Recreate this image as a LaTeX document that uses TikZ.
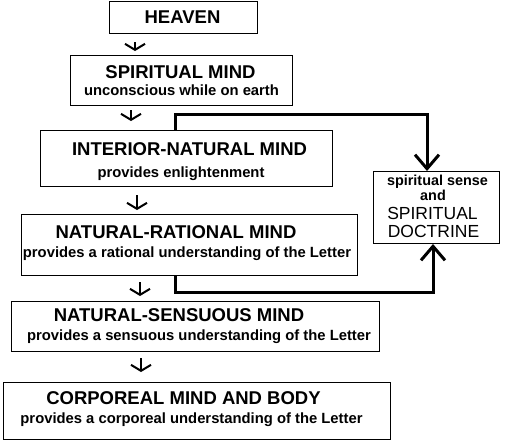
\documentclass[tikz,border=0pt]{standalone}
\usepackage{fontspec}
\setmainfont{Liberation Sans}
\usetikzlibrary{arrows.meta}
\begin{document}
\begin{tikzpicture}[x=1pt,y=-1pt,
  box/.style={draw,line width=1pt,inner sep=0pt,anchor=north west},
  ttl/.style={anchor=base,inner sep=0pt,font=\fontsize{18.5}{20}\selectfont\bfseries},
  sub/.style={anchor=base,inner sep=0pt,font=\fontsize{14.8}{16}\selectfont\bfseries},
  rsub/.style={anchor=base,inner sep=0pt,font=\fontsize{14.4}{16}\selectfont\bfseries},
  rttl/.style={anchor=base,inner sep=0pt,font=\fontsize{17.5}{19}\selectfont},
  smallarr/.style={line width=2pt,-{Straight Barb[length=6pt,width=20pt]}},
  conn/.style={line width=3pt,-{Straight Barb[length=14pt,width=24pt]}}]
\useasboundingbox (0,0) rectangle (505,445);
% boxes
\node[box,minimum width=148pt,minimum height=32pt] (heaven) at (109,1) {};
\node[box,minimum width=222pt,minimum height=50pt] (spirit) at (70,55) {};
\node[box,minimum width=292pt,minimum height=56pt] (interior) at (40,130) {};
\node[box,minimum width=336pt,minimum height=61pt] (natrat) at (21,214) {};
\node[box,minimum width=368pt,minimum height=50pt] (natsen) at (11,301) {};
\node[box,minimum width=387pt,minimum height=57pt] (corp) at (3,382) {};
\node[box,minimum width=126pt,minimum height=72pt] (doctrine) at (373,171) {};
% texts
\node[ttl] (heavenT) at (182.5,23.5) {HEAVEN};
\node[ttl] (spiritT) at (180.5,78.5) {SPIRITUAL MIND};
\node[sub] (spiritS) at (181.5,95.5) {unconscious while on earth};
\node[ttl] (interiorT) at (189.5,155) {INTERIOR-NATURAL MIND};
\node[sub] (interiorS) at (181,177) {provides enlightenment};
\node[ttl] (natratT) at (176,238) {NATURAL-RATIONAL MIND};
\node[sub] (natratS) at (187,257) {provides a rational understanding of the Letter};
\node[ttl] (natsenT) at (179,321.5) {NATURAL-SENSUOUS MIND};
\node[sub] (natsenS) at (199,340) {provides a sensuous understanding of the Letter};
\node[ttl] (corpT) at (183.5,404) {CORPOREAL MIND AND BODY};
\node[sub] (corpS) at (191.5,423.5) {provides a corporeal understanding of the Letter};
\node[rsub] (docA) at (437.5,185.5) {spiritual sense};
\node[rsub] (docB) at (433,200) {and};
\node[rttl] (docC) at (432.5,219) {SPIRITUAL};
\node[rttl] (docD) at (433.5,237) {DOCTRINE};
% small arrows
\coordinate (a1) at (135,0);
\coordinate (a2) at (131,0);
\coordinate (a3) at (137,0);
\coordinate (a4) at (140,0);
\coordinate (a5) at (141,0);
\draw[smallarr,shorten <=8pt,shorten >=4pt] (heaven.south -| a1) -- (spirit.north -| a1);
\draw[smallarr,shorten <=4pt,shorten >=9pt] (spirit.south -| a2) -- (interior.north -| a2);
\draw[smallarr,shorten <=8pt,shorten >=4pt] (interior.south -| a3) -- (natrat.north -| a3);
\draw[smallarr,shorten <=6pt,shorten >=5pt] (natrat.south -| a4) -- (natsen.north -| a4);
\draw[smallarr,shorten <=6pt,shorten >=10pt] (natsen.south -| a5) -- (corp.north -| a5);
% thick connectors
\coordinate (p1) at (175,114);
\coordinate (p2) at (427,114);
\coordinate (q1) at (175,292);
\coordinate (q2) at (433,292);
\draw[conn] (interior.north -| p1) -- (p1) -- (p2) -- (doctrine.north -| p2);
\draw[conn] (natrat.south -| q1) -- (q1) -- (q2) -- (doctrine.south -| q2);
\end{tikzpicture}
\end{document}
